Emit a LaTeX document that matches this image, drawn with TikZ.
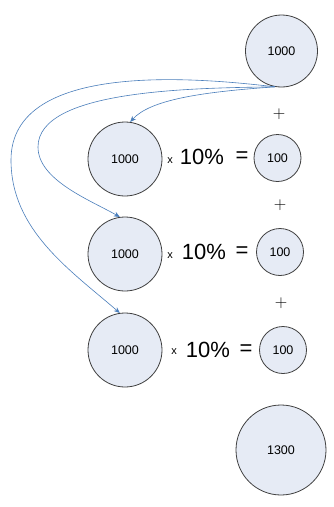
\documentclass[tikz,border=0pt]{standalone}
\usepackage{fontspec}
\setmainfont{Liberation Sans}
\usetikzlibrary{arrows.meta}
\definecolor{cfill}{HTML}{E6EBF5}
\definecolor{cline}{HTML}{404040}
\definecolor{arr}{HTML}{4A7EBB}
\begin{document}
\begin{tikzpicture}[x=1pt,y=-1pt,
  bigc/.style={circle,draw=cline,fill=cfill,line width=0.8pt,minimum size=74pt,inner sep=0pt,font=\fontsize{12.5}{12.5}\selectfont},
  smallc/.style={circle,draw=cline,fill=cfill,line width=0.8pt,minimum size=47pt,inner sep=0pt,font=\fontsize{12.5}{12.5}\selectfont},
  pct/.style={inner sep=0pt,font=\fontsize{22}{22}\selectfont},
  times/.style={inner sep=0pt,font=\fontsize{11}{11}\selectfont},
  plus/.style={inner sep=0pt,font=\fontsize{19}{19}\selectfont},
  link/.style={draw=arr,line width=0.6pt,-{Stealth[length=6pt,width=5pt]}}]
\useasboundingbox (0,0) rectangle (334,507);
\fill[white] (0,0) rectangle (334,507);
\node[bigc,minimum size=72pt] (top) at (281.5,51) {1000};
\node[bigc] (a1) at (125,159) {1000};
\node[bigc] (a2) at (125,254) {1000};
\node[bigc] (a3) at (125,350) {1000};
\node[smallc] (s1) at (277.5,158) {100};
\node[smallc] (s2) at (280,252) {100};
\node[smallc] (s3) at (283,350) {100};
\node[bigc,minimum size=90pt] (tot) at (281,450) {1300};
\node[times] (x1) at (170,161) {x};
\node[times] (x2) at (170,256) {x};
\node[times] (x3) at (174,352) {x};
\node[pct] (p1) at (202,157) {10\%};
\node[pct] (p2) at (204,252) {10\%};
\node[pct] (p3) at (208,350) {10\%};
\node[pct] (e1) at (242,157) {=};
\node[pct] (e2) at (242,252) {=};
\node[pct] (e3) at (246,350) {=};
\node[plus] (q1) at (279,114.5) {$+$};
\node[plus] (q2) at (280,205) {$+$};
\node[plus] (q3) at (281,303) {$+$};
\draw[link] (top.-100) .. controls (200,92) and (150,100) .. (a1.82);
\draw[link] (top.-100) .. controls (190,88) and (38,90) .. (38,147) .. controls (38,180) and (90,200) .. (a2.98);
\draw[link] (top.-100) .. controls (200,78) and (11,60) .. (11,160) .. controls (11,230) and (70,270) .. (a3.98);
\end{tikzpicture}
\end{document}
